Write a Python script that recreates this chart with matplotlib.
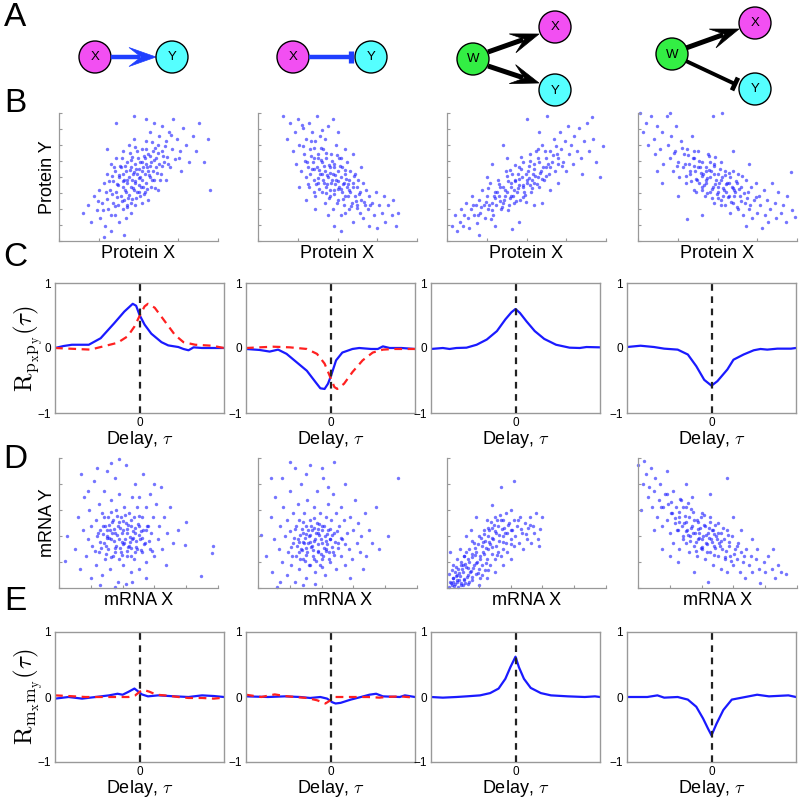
import matplotlib as mpl
mpl.use('Agg')
import numpy as np
import matplotlib.pyplot as plt
from matplotlib.patches import Circle, Polygon

plt.rcParams['font.family'] = ['Liberation Sans', 'DejaVu Sans']
plt.rcParams['mathtext.fontset'] = 'cm'

# ---- scatter clouds (0..100 panel units) ----
b1_pts = [(15,22),(18,28),(20,15),(22,35),(24,24),(25,40),(26,18),(27,30),(28,45),(29,12),
          (30,33),(30,52),(31,25),(32,40),(33,8),(33,60),(34,30),(34,47),(35,20),(35,55),
          (36,38),(36,65),(37,28),(37,44),(38,50),(38,15),(39,35),(39,58),(40,42),(40,25),
          (40,70),(41,48),(41,32),(42,55),(42,38),(42,18),(43,62),(43,45),(43,28),(44,50),
          (44,75),(44,36),(45,58),(45,42),(45,22),(46,48),(46,66),(46,33),(47,54),(47,40),
          (47,80),(48,45),(48,60),(48,28),(49,52),(49,70),(49,38),(50,56),(50,44),(47,98),
          (51,62),(51,35),(51,50),(52,48),(52,72),(52,30),(53,58),(53,42),(55,95),(54,65),
          (54,52),(54,38),(55,60),(55,78),(55,45),(56,55),(56,68),(56,32),(57,50),(57,85),
          (58,62),(58,42),(59,70),(59,55),(60,48),(60,92),(61,65),(61,58),(62,75),(62,40),
          (63,60),(63,82),(64,52),(65,70),(65,90),(66,62),(67,48),(67,78),(68,66),(69,85),
          (70,58),(71,72),(72,95),(73,64),(74,80),(76,70),(77,55),(78,88),(80,75),(82,62),
          (84,82),(86,70),(88,92),(91,62),(94,80),(95,40),(41,5),(28,3),(36,92),(30,72)]
b1_core = [(40.5,52.5),(52.5,61.5),(36.5,44.5),(58.5,47.5),(45.5,63.5),(33.5,36.5),(62.5,68.5),(48.5,33.5),
           (55.5,57.5),(42.5,26.5),(38.5,58.5),(50.5,49.5),(46.5,41.5),(60.5,72.5),(31.5,46.5),(53.5,36.5),
           (44.5,55.5),(57.5,66.5),(39.5,31.5),(49.5,64.5),(35.5,27.5),(64.5,58.5),(47.5,46.5),(41.5,39.5),
           (54.5,71.5),(37.5,51.5),(59.5,63.5),(43.5,33.5),(51.5,42.5),(66.5,74.5),(29.5,38.5),(56.5,51.5),
           (45.5,29.5),(61.5,53.5),(34.5,57.5),(52.5,54.5),(40.5,46.5),(68.5,60.5),(48.5,56.5),(27.5,24.5),
           (70.5,82.5),(44.5,68.5),(32.5,20.5),(58.5,77.5),(50.5,38.5),(39.5,64.5),(63.5,47.5),(46.5,52.5),
           (55.5,40.5),(24.5,31.5),(75.5,64.5),(42.5,47.5),(60.5,41.5),(36.5,34.5),(53.5,66.5),(47.5,73.5),
           (57.5,58.5),(33.5,50.5),(65.5,66.5),(41.5,58.5)]

b2_pts = [(16,98),(18,80),(20,92),(22,70),(23,85),(24,60),(25,95),(26,75),(27,55),(28,88),
          (29,68),(30,80),(30,50),(31,62),(32,92),(32,42),(33,72),(34,56),(34,85),(35,48),
          (35,65),(36,78),(36,35),(37,58),(37,98),(38,45),(38,68),(39,52),(39,82),(40,38),
          (40,62),(41,48),(41,72),(42,55),(42,30),(43,65),(43,42),(44,50),(44,90),(45,58),
          (45,35),(46,45),(46,68),(47,52),(47,25),(48,60),(48,40),(49,48),(49,75),(50,32),
          (50,55),(51,42),(51,65),(52,50),(52,20),(53,38),(53,58),(54,45),(54,28),(55,52),
          (55,35),(56,62),(56,42),(57,25),(57,48),(58,38),(58,55),(59,30),(60,45),(60,15),
          (61,35),(61,52),(62,28),(62,42),(63,48),(64,22),(64,38),(65,32),(66,45),(66,18),
          (67,28),(68,40),(69,25),(70,35),(70,12),(72,30),(73,20),(74,38),(75,10),(76,28),
          (78,22),(79,35),(80,15),(82,28),(84,20),(85,32),(87,12),(88,22),(36,25),(30,32),
          (44,20),(48,12),(52,8),(26,42),(42,80),(50,85),(55,72),(60,68),(65,58),(47,95)]
b2_core = [(38.5,55.5),(46.5,47.5),(33.5,66.5),(52.5,40.5),(41.5,58.5),(56.5,35.5),(35.5,72.5),(48.5,51.5),
           (43.5,44.5),(59.5,42.5),(31.5,57.5),(50.5,46.5),(39.5,63.5),(45.5,39.5),(54.5,55.5),(37.5,49.5),
           (61.5,31.5),(42.5,68.5),(47.5,36.5),(34.5,61.5),(53.5,44.5),(40.5,52.5),(57.5,39.5),(44.5,59.5),
           (36.5,44.5),(49.5,29.5),(28.5,74.5),(55.5,48.5),(43.5,51.5),(63.5,36.5),(32.5,52.5),(51.5,58.5),
           (38.5,40.5),(46.5,62.5),(58.5,27.5),(41.5,45.5),(53.5,32.5),(35.5,56.5),(48.5,44.5),(66.5,30.5),
           (29.5,62.5),(45.5,53.5),(39.5,72.5),(60.5,50.5),(50.5,40.5),(37.5,64.5),(44.5,33.5),(56.5,44.5),
           (33.5,78.5),(47.5,57.5),(42.5,37.5),(52.5,64.5),(27.5,90.5),(40.5,86.5),(62.5,25.5),(70.5,28.5),
           (35.5,38.5),(49.5,67.5),(54.5,21.5),(31.5,44.5)]

b3_pts = [(3,12),(5,20),(6,8),(8,15),(9,25),(10,12),(11,20),(12,30),(13,18),(14,10),
          (15,25),(16,35),(17,20),(18,28),(19,14),(20,32),(21,22),(22,40),(23,28),(24,18),
          (25,35),(26,25),(27,45),(28,30),(29,20),(30,38),(31,28),(32,48),(33,35),(34,25),
          (35,42),(36,32),(37,55),(38,38),(39,28),(40,45),(40,35),(41,52),(42,40),(42,30),
          (43,48),(44,38),(45,58),(45,44),(46,32),(47,50),(48,42),(48,62),(49,36),(50,48),
          (50,95),(51,55),(52,44),(52,68),(53,38),(54,52),(55,60),(55,45),(56,70),(57,50),
          (58,42),(58,62),(59,55),(60,75),(61,48),(62,65),(62,58),(63,98),(64,52),(65,70),
          (66,62),(67,80),(68,55),(69,68),(70,60),(71,85),(72,72),(73,62),(74,78),(75,55),
          (76,90),(77,68),(78,75),(79,60),(80,82),(82,70),(83,88),(84,65),(86,78),(88,92),
          (89,70),(91,97),(92,80),(94,62),(96,50),(98,74),(35,75),(28,60),(45,15),(41,9),
          (55,28),(65,40),(30,12),(20,5),(60,30),(70,45),(85,52),(25,50),(38,65),(58,85)]
b3_core = [(30.5,33.5),(42.5,46.5),(36.5,39.5),(55.5,50.5),(47.5,43.5),(26.5,28.5),(51.5,58.5),(39.5,33.5),
           (60.5,57.5),(44.5,41.5),(33.5,42.5),(57.5,64.5),(28.5,24.5),(49.5,52.5),(38.5,46.5),(63.5,60.5),
           (41.5,35.5),(53.5,47.5),(24.5,30.5),(46.5,56.5),(35.5,29.5),(58.5,53.5),(31.5,38.5),(52.5,62.5),
           (43.5,31.5),(66.5,67.5),(37.5,50.5),(48.5,38.5),(21.5,26.5),(56.5,44.5),(40.5,42.5),(61.5,70.5),
           (29.5,35.5),(45.5,48.5),(34.5,26.5),(54.5,56.5),(50.5,45.5),(19.5,20.5),(64.5,57.5),(39.5,55.5),
           (47.5,34.5),(32.5,44.5),(59.5,48.5),(27.5,17.5),(44.5,52.5),(69.5,64.5),(36.5,35.5),(53.5,41.5),
           (42.5,59.5),(25.5,41.5),(57.5,71.5),(49.5,30.5),(33.5,31.5),(62.5,50.5),(38.5,24.5),(51.5,49.5),
           (72.5,58.5),(46.5,65.5),(16.5,28.5),(68.5,74.5)]

b4_pts = [(1,100),(3,85),(5,92),(6,75),(8,98),(10,80),(11,68),(12,90),(14,72),(15,85),
          (16,60),(18,98),(19,75),(20,65),(21,82),(22,55),(23,70),(24,90),(25,62),(26,50),
          (27,78),(28,58),(29,68),(30,45),(31,72),(32,60),(33,52),(34,82),(35,40),(35,65),
          (36,55),(37,48),(38,70),(39,58),(40,42),(40,62),(41,52),(42,35),(43,58),(43,45),
          (44,68),(45,50),(45,38),(46,55),(47,98),(47,42),(48,60),(48,30),(49,48),(50,52),
          (50,38),(51,45),(52,62),(52,32),(53,50),(53,100),(54,40),(55,55),(55,28),(56,45),
          (57,35),(58,50),(58,22),(59,42),(60,30),(60,55),(61,38),(62,45),(63,25),(63,52),
          (64,35),(65,42),(66,20),(67,30),(68,48),(68,12),(69,38),(70,25),(71,42),(72,18),
          (73,32),(74,45),(75,22),(76,35),(77,28),(78,10),(79,40),(80,20),(81,32),(82,15),
          (83,25),(84,45),(86,30),(87,18),(88,38),(90,22),(91,28),(93,15),(94,35),(96,54),
          (97,24),(99,19),(31,17),(40,20),(25,35),(15,45),(60,70),(70,60),(20,100),(12,55)]
b4_core = [(40.5,50.5),(48.5,44.5),(35.5,58.5),(55.5,38.5),(44.5,55.5),(52.5,47.5),(38.5,62.5),(60.5,35.5),
           (46.5,40.5),(32.5,54.5),(57.5,45.5),(42.5,47.5),(50.5,33.5),(36.5,48.5),(63.5,40.5),(45.5,61.5),
           (53.5,41.5),(39.5,53.5),(58.5,30.5),(47.5,52.5),(34.5,64.5),(61.5,46.5),(43.5,37.5),(51.5,56.5),
           (29.5,60.5),(56.5,34.5),(41.5,43.5),(64.5,31.5),(37.5,57.5),(49.5,36.5),(54.5,51.5),(33.5,46.5),
           (59.5,41.5),(44.5,66.5),(66.5,37.5),(40.5,39.5),(52.5,28.5),(31.5,67.5),(47.5,58.5),(62.5,26.5),
           (27.5,72.5),(55.5,44.5),(42.5,54.5),(68.5,33.5),(38.5,45.5),(50.5,42.5),(24.5,58.5),(57.5,53.5),
           (46.5,33.5),(35.5,70.5),(53.5,35.5),(70.5,28.5),(43.5,49.5),(60.5,39.5),(30.5,50.5),(48.5,65.5),
           (65.5,50.5),(22.5,68.5),(74.5,34.5),(36.5,38.5)]

d1_pts = [(5,40),(4,21),(10,30),(12,55),(13,15),(15,45),(16,70),(17,25),(18,38),(19,60),
          (20,8),(20,48),(21,32),(22,82),(23,18),(23,52),(24,40),(25,65),(25,28),(26,45),
          (27,10),(27,58),(28,35),(28,75),(29,22),(29,48),(30,40),(30,90),(31,30),(31,55),
          (32,15),(32,45),(33,68),(33,38),(34,25),(34,52),(35,42),(35,85),(36,32),(36,60),
          (37,5),(37,48),(38,38),(38,72),(39,28),(39,55),(40,45),(40,18),(41,62),(41,35),
          (42,50),(42,95),(43,25),(43,42),(44,58),(44,32),(45,48),(45,12),(46,70),(46,38),
          (47,55),(47,22),(48,42),(48,80),(49,30),(49,62),(50,48),(50,15),(51,38),(52,55),
          (52,28),(53,45),(53,88),(54,35),(55,62),(55,20),(56,48),(57,72),(57,30),(58,42),
          (59,55),(60,25),(61,65),(62,38),(63,48),(64,78),(65,30),(66,55),(67,18),(68,42),
          (70,62),(72,35),(75,45),(79,33),(80,51),(89,9),(96,27),(97,32),(26,2),(35,1),
          (42,3),(14,88),(24,92),(38,99),(33,96),(46,5),(55,8),(60,80),(18,75),(50,70)]
d1_core = [(30.5,38.5),(42.5,45.5),(35.5,30.5),(48.5,36.5),(27.5,47.5),(39.5,25.5),(45.5,52.5),(33.5,42.5),
           (51.5,29.5),(37.5,50.5),(29.5,26.5),(44.5,39.5),(40.5,33.5),(54.5,44.5),(31.5,48.5),(47.5,27.5),
           (36.5,40.5),(25.5,35.5),(43.5,31.5),(50.5,40.5),(38.5,46.5),(32.5,23.5),(46.5,43.5),(28.5,54.5),
           (41.5,37.5),(53.5,33.5),(34.5,36.5),(49.5,49.5),(26.5,30.5),(39.5,42.5),(45.5,24.5),(36.5,55.5),
           (52.5,38.5),(30.5,44.5),(42.5,28.5),(47.5,46.5),(24.5,42.5),(40.5,51.5),(35.5,27.5),(56.5,36.5),
           (33.5,50.5),(44.5,35.5),(29.5,32.5),(50.5,55.5),(38.5,30.5),(43.5,48.5),(22.5,28.5),(48.5,31.5),
           (31.5,38.5),(55.5,47.5),(37.5,22.5),(46.5,38.5),(27.5,41.5),(41.5,56.5),(34.5,45.5),(51.5,43.5),
           (39.5,35.5),(58.5,28.5),(32.5,58.5),(45.5,30.5)]

d2_pts = [(2,41),(5,25),(8,55),(9,12),(10,38),(11,70),(12,1),(13,30),(14,48),(15,85),
          (15,20),(16,62),(17,40),(18,10),(18,52),(19,28),(20,75),(20,44),(21,18),(22,58),
          (22,35),(23,92),(23,5),(24,48),(24,25),(25,65),(25,38),(26,15),(26,52),(27,30),
          (27,80),(28,42),(28,22),(29,58),(29,35),(30,48),(30,8),(31,28),(31,68),(32,40),
          (32,18),(33,52),(33,95),(34,32),(34,45),(35,22),(35,62),(36,38),(36,12),(37,50),
          (37,75),(38,28),(38,42),(39,58),(39,18),(40,35),(40,48),(41,25),(41,85),(42,40),
          (42,10),(43,55),(43,30),(44,45),(44,65),(45,20),(45,38),(46,52),(47,28),(47,72),
          (48,42),(49,15),(49,58),(50,35),(51,48),(52,25),(52,62),(53,38),(54,52),(55,18),
          (55,80),(56,42),(57,30),(58,55),(59,22),(60,45),(61,68),(62,35),(63,50),(64,28),
          (65,40),(67,58),(68,25),(70,45),(72,35),(74,62),(76,30),(82,40),(88,85),(48,97),
          (40,92),(30,88),(20,97),(14,5),(28,2),(36,3),(58,8),(66,15),(8,85),(44,78)]
d2_core = [(28.5,35.5),(37.5,28.5),(32.5,40.5),(43.5,33.5),(25.5,27.5),(35.5,46.5),(40.5,22.5),(30.5,30.5),
           (46.5,40.5),(22.5,38.5),(34.5,24.5),(39.5,37.5),(27.5,45.5),(44.5,27.5),(31.5,34.5),(48.5,35.5),
           (24.5,32.5),(36.5,42.5),(41.5,30.5),(29.5,20.5),(38.5,49.5),(33.5,31.5),(45.5,45.5),(26.5,40.5),
           (42.5,36.5),(30.5,25.5),(50.5,30.5),(35.5,36.5),(21.5,24.5),(40.5,44.5),(32.5,17.5),(47.5,25.5),
           (28.5,50.5),(37.5,33.5),(43.5,41.5),(25.5,35.5),(34.5,29.5),(52.5,38.5),(31.5,44.5),(39.5,26.5),
           (46.5,31.5),(23.5,45.5),(36.5,20.5),(41.5,47.5),(29.5,38.5),(44.5,22.5),(33.5,47.5),(27.5,29.5),
           (49.5,43.5),(38.5,40.5),(20.5,31.5),(42.5,28.5),(35.5,53.5),(30.5,41.5),(54.5,33.5),(26.5,22.5),
           (45.5,37.5),(32.5,35.5),(40.5,16.5),(37.5,45.5)]

d3_pts = [(1,1),(2,5),(3,2),(4,8),(5,3),(5,12),(6,6),(7,1),(7,15),(8,9),
          (9,4),(9,20),(10,12),(11,7),(11,25),(12,16),(13,10),(13,3),(14,20),(14,30),
          (15,13),(16,6),(16,24),(17,18),(17,35),(18,11),(18,28),(19,20),(20,15),(20,40),
          (21,25),(21,8),(22,32),(22,18),(23,45),(23,26),(24,14),(24,36),(25,22),(25,52),
          (26,30),(26,40),(27,18),(27,34),(28,46),(28,26),(29,38),(30,22),(30,55),(31,32),
          (31,42),(32,28),(32,48),(33,36),(34,25),(34,52),(35,40),(35,30),(36,46),(37,35),
          (37,58),(38,42),(38,28),(39,50),(40,38),(40,60),(41,45),(42,32),(42,52),(43,40),
          (44,48),(45,35),(46,55),(47,42),(48,30),(49,50),(50,38),(51,46),(52,55),(53,35),
          (54,48),(55,42),(56,58),(57,38),(58,32),(60,55),(12,40),(6,22),(3,14),(8,30),
          (15,45),(10,2),(20,2),(25,8),(30,12),(35,18),(40,22),(2,28),(18,55),(28,64),
          (42,82),(34,78),(12,28),(22,10),(4,18),(16,36),(26,14),(10,18),(6,10),(14,5)]
d3_core = [(2.5,3.5),(4.5,1.5),(6.5,4.5),(3.5,7.5),(8.5,2.5),(5.5,9.5),(10.5,6.5),(7.5,11.5),(12.5,8.5),
           (9.5,14.5),(1.5,10.5),(14.5,12.5),(11.5,18.5),(16.5,15.5),(13.5,22.5),(8.5,17.5),(18.5,19.5),
           (15.5,26.5),(20.5,22.5),(17.5,30.5),(22.5,27.5),(19.5,33.5),(24.5,30.5),(21.5,38.5),(26.5,35.5),
           (23.5,41.5),(28.5,38.5),(25.5,46.5),(30.5,43.5),(27.5,50.5),(32.5,40.5),(29.5,48.5),(34.5,45.5),
           (31.5,52.5),(36.5,42.5),(33.5,56.5),(38.5,48.5),(35.5,52.5),(40.5,44.5),(44.5,52.5),(3.5,4.5),
           (7.5,6.5),(11.5,3.5),(5.5,16.5),(15.5,8.5),(13.5,15.5),(19.5,11.5),(10.5,24.5),(24.5,19.5),
           (17.5,25.5),(28.5,31.5),(22.5,35.5),(31.5,25.5),(26.5,44.5),(35.5,35.5),(40.5,33.5),(46.5,45.5),
           (49.5,41.5),(52.5,48.5),(58.5,45.5)]

d4_pts = [(0,95),(4,98),(3,80),(5,88),(6,70),(7,78),(8,92),(9,62),(10,75),(11,85),
          (12,55),(13,68),(14,80),(15,48),(16,62),(17,72),(18,90),(18,52),(19,65),(20,42),
          (21,58),(22,75),(22,35),(23,50),(24,62),(25,45),(26,30),(26,55),(27,68),(28,40),
          (29,50),(30,35),(30,62),(31,45),(32,28),(32,55),(33,40),(34,48),(34,70),(35,32),
          (36,42),(37,52),(37,25),(38,38),(39,46),(40,30),(40,58),(41,40),(42,22),(42,48),
          (43,35),(44,42),(45,28),(45,55),(46,38),(47,18),(47,45),(48,32),(49,40),(50,25),
          (50,50),(51,35),(52,15),(52,42),(53,30),(54,38),(55,22),(56,45),(56,12),(57,32),
          (58,25),(59,40),(60,18),(61,30),(62,22),(63,35),(64,12),(65,28),(66,20),(67,8),
          (68,30),(70,18),(71,25),(72,12),(74,22),(75,30),(76,15),(77,4),(79,20),(80,12),
          (82,25),(84,15),(86,8),(88,18),(90,12),(93,11),(56,85),(45,72),(60,55),(10,45),
          (2,60),(15,30),(25,20),(35,12),(65,45),(72,38),(85,30),(30,80),(20,25),(44,5)]
d4_core = [(30.5,50.5),(38.5,42.5),(25.5,58.5),(44.5,38.5),(33.5,46.5),(48.5,30.5),(28.5,62.5),(41.5,48.5),
           (36.5,35.5),(52.5,36.5),(23.5,53.5),(46.5,44.5),(31.5,40.5),(39.5,54.5),(55.5,28.5),(27.5,47.5),
           (43.5,33.5),(34.5,58.5),(50.5,42.5),(20.5,66.5),(37.5,45.5),(47.5,25.5),(29.5,55.5),(42.5,40.5),
           (57.5,35.5),(32.5,36.5),(45.5,50.5),(24.5,44.5),(40.5,31.5),(53.5,46.5),(35.5,52.5),(49.5,37.5),
           (26.5,68.5),(38.5,38.5),(60.5,26.5),(30.5,43.5),(44.5,46.5),(21.5,57.5),(36.5,28.5),(51.5,32.5),
           (33.5,60.5),(47.5,41.5),(28.5,37.5),(41.5,56.5),(56.5,40.5),(39.5,30.5),(46.5,35.5),(18.5,72.5),
           (34.5,42.5),(58.5,20.5),(43.5,27.5),(31.5,65.5),(54.5,23.5),(37.5,50.5),(62.5,32.5),(25.5,50.5),
           (48.5,48.5),(14.5,62.5),(66.5,24.5),(40.5,37.5)]

# ---- cross-correlation curves: (lag, R) ----
c1_blue = [(-50,0.0),(-45,0.03),(-40,0.05),(-30,0.05),(-23,0.15),(-15,0.38),(-9,0.56),(-4,0.68),
           (-2,0.65),(0,0.51),(3,0.36),(7,0.22),(13,0.09),(17,0.04),(23,0.015),(26,-0.015),
           (29,-0.035),(32,0.01),(37,0.0),(50,0.0)]
c1_red = [(-50,0.0),(-29,-0.025),(-23,0.015),(-13,0.08),(-7,0.18),(-3,0.33),(0,0.49),(3,0.64),
          (5,0.68),(9,0.62),(15,0.41),(21,0.2),(26,0.09),(33,0.05),(43,0.035),(50,0.0)]
c2_blue = [(-50,-0.015),(-42,-0.03),(-36,-0.055),(-31,-0.025),(-26,-0.09),(-20,-0.22),(-14,-0.35),
           (-9,-0.52),(-6,-0.62),(-3.5,-0.63),(-1.5,-0.55),(0.4,-0.42),(3.3,-0.19),(7,-0.07),
           (13,-0.015),(17,0.0),(24,-0.015),(28,-0.015),(31,0.025),(35,0.0),(42,0.0),(50,-0.015)]
c2_red = [(-50,0.0),(-34,0.02),(-24,0.01),(-14,-0.015),(-8,-0.09),(-3.5,-0.24),(-0.6,-0.42),
          (2.3,-0.6),(4,-0.63),(8,-0.55),(13,-0.37),(19,-0.19),(25,-0.07),(31,-0.025),
          (38,-0.015),(50,-0.015)]
c3_blue = [(-50,-0.015),(-43,0.0),(-39,-0.015),(-35,0.0),(-29,0.005),(-23,0.05),(-17,0.13),
           (-11,0.26),(-6,0.44),(-2.4,0.55),(0,0.6),(2.6,0.54),(6.5,0.41),(11.4,0.26),(17,0.14),
           (24,0.05),(32,0.005),(38,0.0),(42,0.015),(50,0.01)]
c4_blue = [(-50,0.015),(-42,0.035),(-34,0.015),(-28,-0.01),(-20,-0.025),(-14,-0.1),(-9,-0.28),
           (-4.3,-0.49),(0,-0.58),(3.5,-0.51),(9.4,-0.33),(13,-0.18),(19,-0.1),(25,-0.035),
           (29,-0.015),(33,-0.025),(39,-0.01),(47,-0.01),(50,0.0)]

e1_blue = [(-50,-0.025),(-42,0.0),(-34,-0.025),(-26,0.0),(-18,0.025),(-13,0.05),(-10,0.035),
           (-6.5,0.08),(-3,0.13),(-1,0.09),(1.4,0.04),(5,0.01),(11,0.025),(21,0.01),(29,0.0),
           (37,0.025),(44,0.015),(50,0.0)]
e1_red = [(-50,0.025),(-42,0.015),(-32,0.0),(-22,0.0),(-12,0.0),(-6.5,0.0),(-2.5,0.025),(0,0.08),
          (2.4,0.11),(6,0.08),(10,0.035),(15,0.025),(23,0.0),(29,-0.015),(37,-0.015),(44,-0.025),
          (50,-0.01)]
e2_blue = [(-50,0.01),(-37,0.0),(-27,0.01),(-18,0.0),(-12,-0.015),(-6,0.0),(-2,-0.025),(1,-0.08),
           (3,-0.1),(6,-0.09),(12,-0.04),(18,0.0),(23,0.035),(27,0.05),(31,0.01),(41,0.0),
           (44,0.025),(50,0.0)]
e2_red = [(-50,0.035),(-41,0.0),(-33,0.04),(-27,0.015),(-21,0.0),(-14,-0.015),(-8,-0.05),
          (-3,-0.1),(0,-0.05),(2,0.0),(10,0.0),(22,0.0),(29,-0.01),(33,0.0),(41,0.01),(50,-0.01)]
e3_blue = [(-50,0.0),(-43,-0.01),(-35,0.0),(-29,0.01),(-21,0.025),(-15,0.06),(-10,0.13),(-6,0.28),
           (-3,0.46),(0,0.62),(2,0.46),(5,0.28),(9,0.14),(15,0.06),(21,0.025),(31,0.01),(41,0.0),
           (47,0.01),(50,0.0)]
e4_blue = [(-50,0.0),(-38,0.0),(-32,0.025),(-28,-0.01),(-20,0.0),(-14,-0.04),(-9,-0.15),(-5,-0.33),
           (-2,-0.49),(0,-0.59),(3,-0.41),(7,-0.2),(12,-0.04),(20,0.0),(27,0.035),(34,0.01),
           (45.5,0.025),(50,0.0)]

BLUE = '#1a1aff'
GRAY = '#999999'

fig = plt.figure(figsize=(8, 8), dpi=100)

# full-figure overlay in pixel units for the diagrams and panel letters
ov = fig.add_axes([0, 0, 1, 1])
ov.set_xlim(0, 800)
ov.set_ylim(800, 0)
ov.axis('off')


def px_axes(left, top, width, height):
    return fig.add_axes([left / 800, 1 - (top + height) / 800, width / 800, height / 800])


def node(x, y, label, color):
    ov.add_patch(Circle((x, y), 16, facecolor=color, edgecolor='black', lw=1))
    ov.text(x, y + 0.5, label, ha='center', va='center', fontsize=9.5)


def arrow(p0, p1, color, lw, hl, hw):
    p0 = np.array(p0, float)
    p1 = np.array(p1, float)
    d = (p1 - p0) / np.linalg.norm(p1 - p0)
    n = np.array([-d[1], d[0]])
    ov.plot([p0[0], (p1 - 0.6 * hl * d)[0]], [p0[1], (p1 - 0.6 * hl * d)[1]],
            color=color, lw=lw, solid_capstyle='butt')
    head = [p1, p1 - hl * d + hw * n, p1 - 0.55 * hl * d, p1 - hl * d - hw * n]
    ov.add_patch(Polygon(head, closed=True, facecolor=color, edgecolor=color, lw=0.5))


def tbar(p0, p1, color, lw, bw):
    p0 = np.array(p0, float)
    p1 = np.array(p1, float)
    d = (p1 - p0) / np.linalg.norm(p1 - p0)
    n = np.array([-d[1], d[0]])
    ov.plot([p0[0], p1[0]], [p0[1], p1[1]], color=color, lw=lw, solid_capstyle='butt')
    a = p1 + bw * n
    b = p1 - bw * n
    ov.plot([a[0], b[0]], [a[1], b[1]], color=color, lw=lw + 0.6, solid_capstyle='butt')


# A: network motifs
arrow((111, 57), (156, 57), '#1f3fff', 3.2, 27, 9.5)
node(95, 57, 'X', '#f24ff2')
node(172, 57, 'Y', '#55ffff')
tbar((309, 57), (351, 57), '#1f3fff', 3.2, 6)
node(293, 57, 'X', '#f24ff2')
node(371, 57, 'Y', '#55ffff')
arrow((488, 52), (539, 34), 'black', 3.6, 28, 10)
arrow((488, 66), (539, 83), 'black', 3.6, 28, 10)
node(473, 59, 'W', '#33ee44')
node(555, 27, 'X', '#f24ff2')
node(555, 90, 'Y', '#55ffff')
arrow((686, 48), (739, 29), 'black', 3.6, 28, 10)
tbar((686, 61), (735, 84), 'black', 2.8, 7)
node(672, 54, 'W', '#33ee44')
node(755, 23, 'X', '#f24ff2')
node(755, 89, 'Y', '#55ffff')

for letter, y in [('A', 17), ('B', 103), ('C', 258), ('D', 459), ('E', 602)]:
    ov.text(15, y, letter, ha='center', va='center', fontsize=24)


def scatter_panel(ax, pts, nx, ny, xlabel):
    pts = np.array(pts, float)
    ax.scatter(pts[:, 0], pts[:, 1], s=6, c=BLUE, alpha=0.6, linewidths=0, clip_on=False)
    ax.set_xlim(0, 100)
    ax.set_ylim(0, 100)
    ax.spines['top'].set_visible(False)
    ax.spines['right'].set_visible(False)
    for s in ['left', 'bottom']:
        ax.spines[s].set_color(GRAY)
        ax.spines[s].set_linewidth(0.9)
    ax.set_xticks(np.linspace(0, 100, nx + 1))
    ax.set_yticks(np.linspace(0, 100, ny + 1))
    ax.tick_params(direction='in', length=2.5, color=GRAY, labelbottom=False, labelleft=False)
    ax.set_xlabel(xlabel, fontsize=13, labelpad=3)


def corr_panel(ax, blue, red=None):
    blue = np.array(blue, float)
    ax.plot(blue[:, 0], blue[:, 1], color=BLUE, lw=1.6)
    if red is not None:
        red = np.array(red, float)
        ax.plot(red[:, 0], red[:, 1], color='#ff2020', lw=1.6, ls=(0, (3.5, 2.5)))
    ax.axvline(0, color='#222222', lw=1.6, ls=(0, (3, 2.5)), zorder=3)
    ax.set_xlim(-50, 50)
    ax.set_ylim(-1, 1)
    ax.set_xticks([0])
    ax.set_yticks([-1, 0, 1])
    ax.tick_params(length=0, labelsize=8.5, pad=3)
    for s in ax.spines.values():
        s.set_color(GRAY)
        s.set_linewidth(1.0)
    ax.set_xlabel('Delay, $\\tau$', fontsize=13, labelpad=0)


sc_left = [59, 258, 447, 638]
cc_left = [55, 246, 431, 627]

b_sets = [b1_pts + b1_core, b2_pts + b2_core, b3_pts + b3_core, b4_pts + b4_core]
d_sets = [d1_pts + d1_core, d2_pts + d2_core, d3_pts + d3_core, d4_pts + d4_core]
for i, pts in enumerate(b_sets):
    scatter_panel(px_axes(sc_left[i], 113, 159, 128), pts, 4, 8, 'Protein X')
for i, pts in enumerate(d_sets):
    scatter_panel(px_axes(sc_left[i], 458, 159, 130), pts, 5, 5, 'mRNA X')

for i, (bl, rd) in enumerate([(c1_blue, c1_red), (c2_blue, c2_red), (c3_blue, None), (c4_blue, None)]):
    corr_panel(px_axes(cc_left[i], 283, 169, 130), bl, rd)
for i, (bl, rd) in enumerate([(e1_blue, e1_red), (e2_blue, e2_red), (e3_blue, None), (e4_blue, None)]):
    corr_panel(px_axes(cc_left[i], 632, 169, 130), bl, rd)

ov.text(47, 177, 'Protein Y', rotation=90, ha='center', va='center', fontsize=13)
ov.text(47, 523, 'mRNA Y', rotation=90, ha='center', va='center', fontsize=13)
ov.text(28, 348, r'$\mathrm{R}_{\mathrm{p}_\mathrm{x}\mathrm{p}_\mathrm{y}}(\tau)$',
        rotation=90, ha='center', va='center', fontsize=18)
ov.text(28, 697, r'$\mathrm{R}_{\mathrm{m}_\mathrm{x}\mathrm{m}_\mathrm{y}}(\tau)$',
        rotation=90, ha='center', va='center', fontsize=18)

fig.savefig('out.png', dpi=100)
